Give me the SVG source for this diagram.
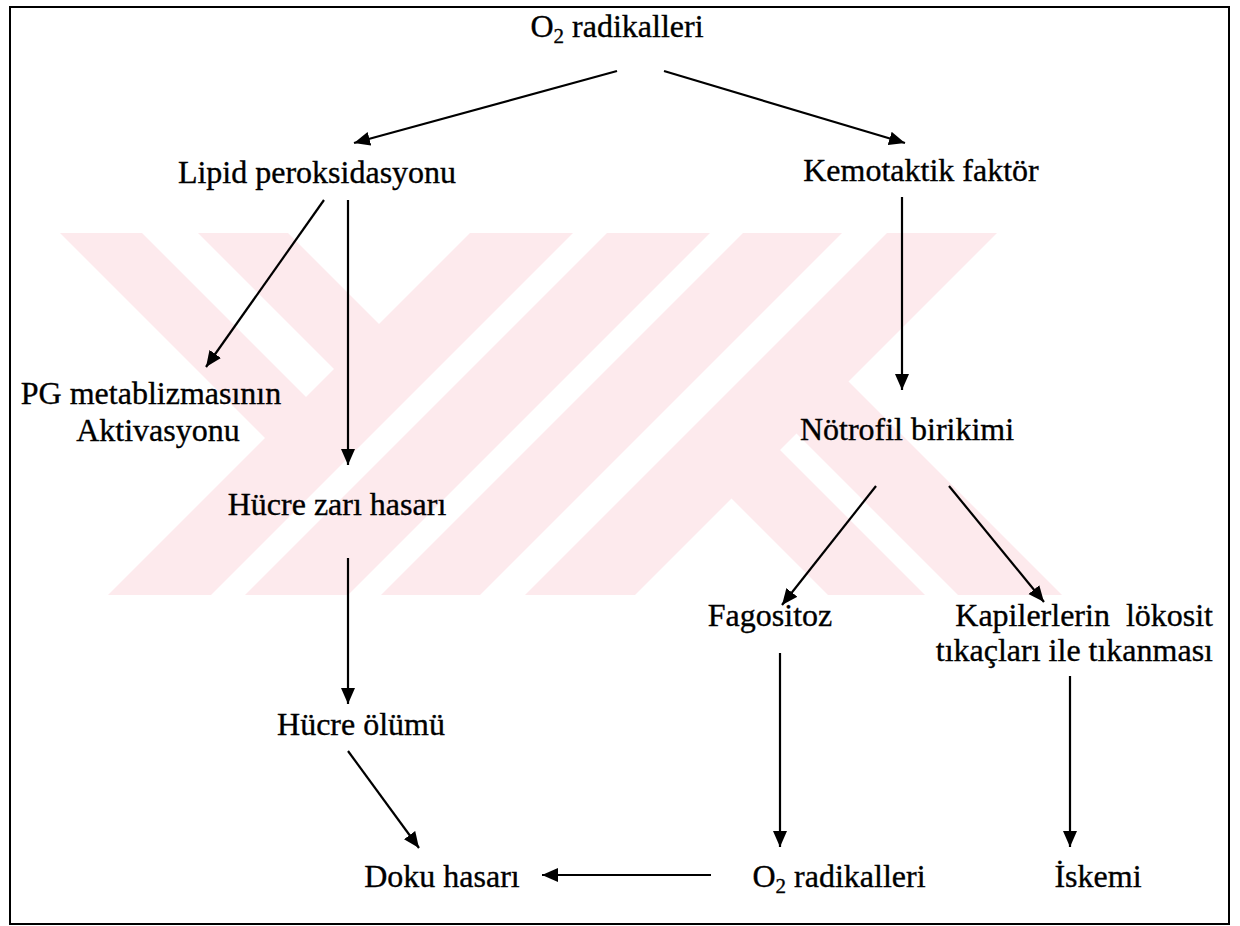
<svg xmlns="http://www.w3.org/2000/svg" width="1240" height="926" viewBox="0 0 1240 926">
<defs>
<marker id="ah" markerUnits="userSpaceOnUse" markerWidth="18" markerHeight="16" refX="16" refY="8" orient="auto">
<path d="M0,1 L16,8 L0,15 z" fill="#000"/>
</marker>
<clipPath id="wmclip"><rect x="0" y="233" width="1240" height="362"/></clipPath>
</defs>
<style>
.t{font-family:"Liberation Serif","Times New Roman",serif;font-size:32px;fill:#000;stroke:#000;stroke-width:0.35px;}
.c{stroke:#000;stroke-width:2.2;fill:none;marker-end:url(#ah);}
.wm{fill:#fdeaed;stroke:none;}
</style>
<rect width="1240" height="926" fill="#fff"/>
<g id="watermark" clip-path="url(#wmclip)">
<polygon class="wm" points="60,233 142,233 334.5,425.5 293.5,466.5"/>
<polygon class="wm" points="198,233 288,233 407.5,352.5 362.5,397.5"/>
<polygon class="wm" points="470,233 573,233 211,595 108,595"/>
<polygon class="wm" points="607,233 710,233 348,595 245,595"/>
<polygon class="wm" points="743,233 842,233 480,595 381,595"/>
<polygon class="wm" points="887,233 997,233 635,595 525,595"/>
<polygon class="wm" points="716.5,483.5 765,435 925,595 828,595"/>
<polygon class="wm" points="781.5,418.5 833.5,366.5 1062,595 958,595"/>
</g>
<rect id="frame" x="10" y="7" width="1219" height="917" fill="none" stroke="#000" stroke-width="2"/>
<g id="connectors">
<line class="c" x1="617" y1="71" x2="354" y2="143"/>
<line class="c" x1="664" y1="71" x2="905" y2="143"/>
<line class="c" x1="324" y1="200" x2="206" y2="367"/>
<line class="c" x1="348" y1="200" x2="348" y2="465"/>
<line class="c" x1="348" y1="558" x2="348" y2="704"/>
<line class="c" x1="902" y1="197" x2="902" y2="390"/>
<line class="c" x1="876" y1="486" x2="782" y2="605"/>
<line class="c" x1="949" y1="486" x2="1044" y2="602"/>
<line class="c" x1="780" y1="653" x2="780" y2="847"/>
<line class="c" x1="1070" y1="676" x2="1070" y2="847"/>
<line class="c" x1="348" y1="751" x2="419" y2="848"/>
<line class="c" x1="711" y1="875" x2="542" y2="875"/>
</g>
<g id="n-o2-top"><text class="t" x="617" y="37" text-anchor="middle">O<tspan font-size="21" dy="6">2</tspan><tspan dy="-6"> radikalleri</tspan></text></g>
<g id="n-lipid"><text class="t" x="317" y="183" text-anchor="middle">Lipid peroksidasyonu</text></g>
<g id="n-kemotaktik"><text class="t" x="921" y="181" text-anchor="middle">Kemotaktik faktör</text></g>
<g id="n-pg"><text class="t" x="151" y="404" text-anchor="middle">PG metablizmasının</text><text class="t" x="158" y="441" text-anchor="middle">Aktivasyonu</text></g>
<g id="n-hucre-zari"><text class="t" x="337" y="515" text-anchor="middle">Hücre zarı hasarı</text></g>
<g id="n-notrofil"><text class="t" x="907" y="440" text-anchor="middle">Nötrofil birikimi</text></g>
<g id="n-fagositoz"><text class="t" x="770" y="626" text-anchor="middle">Fagositoz</text></g>
<g id="n-kapiler"><text class="t" x="1213" y="626" text-anchor="end" style="white-space:pre">Kapilerlerin  lökosit</text><text class="t" x="1213" y="661" text-anchor="end">tıkaçları ile tıkanması</text></g>
<g id="n-hucre-olumu"><text class="t" x="361" y="735" text-anchor="middle">Hücre ölümü</text></g>
<g id="n-doku"><text class="t" x="442" y="887" text-anchor="middle">Doku hasarı</text></g>
<g id="n-o2-bottom"><text class="t" x="839" y="887" text-anchor="middle">O<tspan font-size="21" dy="6">2</tspan><tspan dy="-6"> radikalleri</tspan></text></g>
<g id="n-iskemi"><text class="t" x="1098" y="887" text-anchor="middle">İskemi</text></g>
</svg>
